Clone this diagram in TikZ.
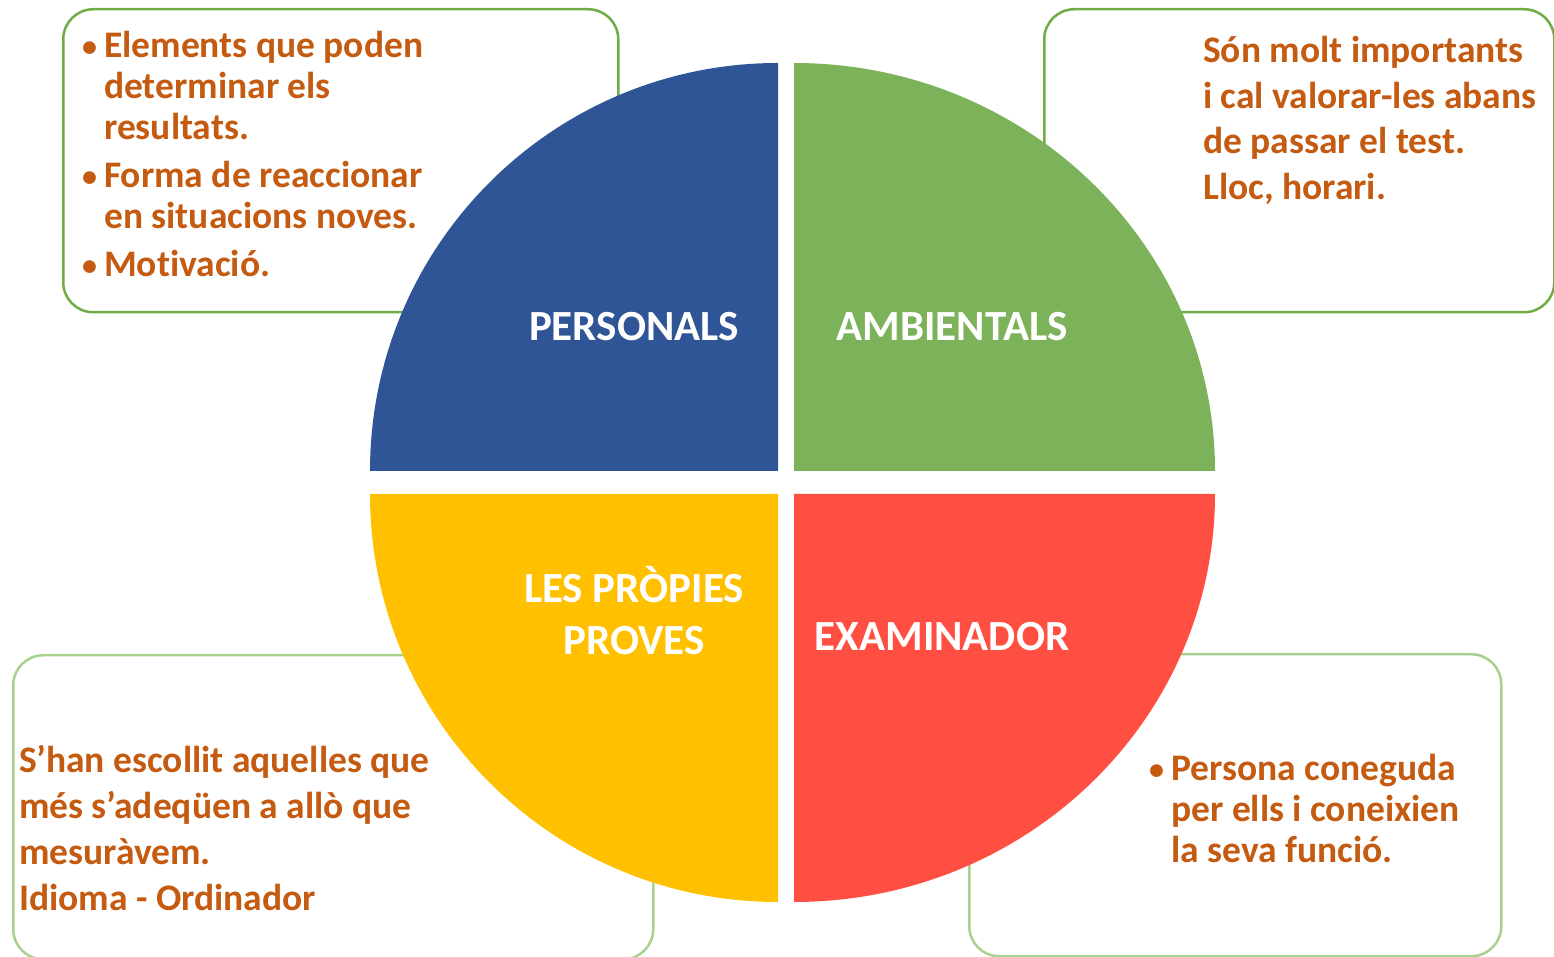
\documentclass[tikz,border=0pt]{standalone}
\usepackage{fontspec}
\setmainfont{Carlito}[Ligatures=NoCommon]
\usetikzlibrary{positioning}
\definecolor{persblue}{HTML}{2F5597}
\definecolor{ambgreen}{HTML}{7CB259}
\definecolor{provyellow}{HTML}{FFC000}
\definecolor{examred}{HTML}{FF4F43}
\definecolor{notebrown}{HTML}{C55A11}
\definecolor{boxgreen}{HTML}{70AD47}
\definecolor{boxlight}{HTML}{A9D18E}
\newcommand{\notebullet}{\makebox[22pt][l]{\raisebox{1pt}{\fontsize{30}{30}\selectfont •}}}

\begin{document}
\begin{tikzpicture}[x=1pt, y=1pt,
  infobox/.style = {draw=boxgreen, line width=2.5pt, rounded corners=30pt, fill=white, anchor=north west},
  note/.style = {text=notebrown, font=\bfseries\fontsize{37.5}{41}\selectfont, align=left, anchor=north west, inner sep=0pt},
  quadlabel/.style = {text=white, font=\bfseries\fontsize{43}{52}\selectfont, align=center}]
\useasboundingbox (0,0) rectangle (1554,956);
% boxes behind the circle
\node[infobox, minimum width=555pt, minimum height=303pt] (persbox) at (62,948) {};
\node[infobox, minimum width=510pt, minimum height=303pt] (ambbox) at (1043,948) {};
\node[infobox, draw=boxlight, minimum width=640pt, minimum height=304pt] (provbox) at (12,302) {};
\node[infobox, draw=boxlight, minimum width=532pt, minimum height=302pt] (exambox) at (968,303) {};
% the four quarters
\fill[persblue] (778,485) -- (370,485) arc[start angle=180, end angle=90, radius=408] -- cycle;
\fill[ambgreen] (794,485) -- (1215,485) arc[start angle=0, end angle=90, x radius=421, y radius=408] -- cycle;
\fill[provyellow] (778,462) -- (370,462) arc[start angle=180, end angle=270, radius=408] -- cycle;
\fill[examred] (794,462) -- (1215,462) arc[start angle=0, end angle=-90, x radius=421, y radius=408] -- cycle;
% labels
\node[quadlabel] (personals) at (634,629) {PERSONALS};
\node[quadlabel] (ambientals) at (952,629) {AMBIENTALS};
\node[quadlabel] (proves) at (634,345) {LES PRÒPIES\\PROVES};
\node[quadlabel] (examinador) at (942,319) {EXAMINADOR};
% notes
\node[note] (persnote) at (82,925) {\notebullet Elements que poden\\
  \hspace*{22pt}determinar els\\
  \hspace*{22pt}resultats.\\[7pt]
  \notebullet Forma de reaccionar\\
  \hspace*{22pt}en situacions noves.\\[7pt]
  \notebullet Motivació.};
\node[note, font=\bfseries\fontsize{37.5}{45.5}\selectfont] (ambnote) at (1203,920) {Són molt importants\\
  i cal valorar-les abans\\
  de passar el test.\\
  Lloc, horari.};
\node[note, font=\bfseries\fontsize{37.5}{46}\selectfont] (provnote) at (19,211) {S’han escollit aquelles que\\
  més s’adeqüen a allò que\\
  mesuràvem.\\
  Idioma - Ordinador};
\node[note] (examnote) at (1149,202) {\notebullet Persona coneguda\\
  \hspace*{22pt}per ells i coneixien\\
  \hspace*{22pt}la seva funció.};
\end{tikzpicture}
\end{document}
